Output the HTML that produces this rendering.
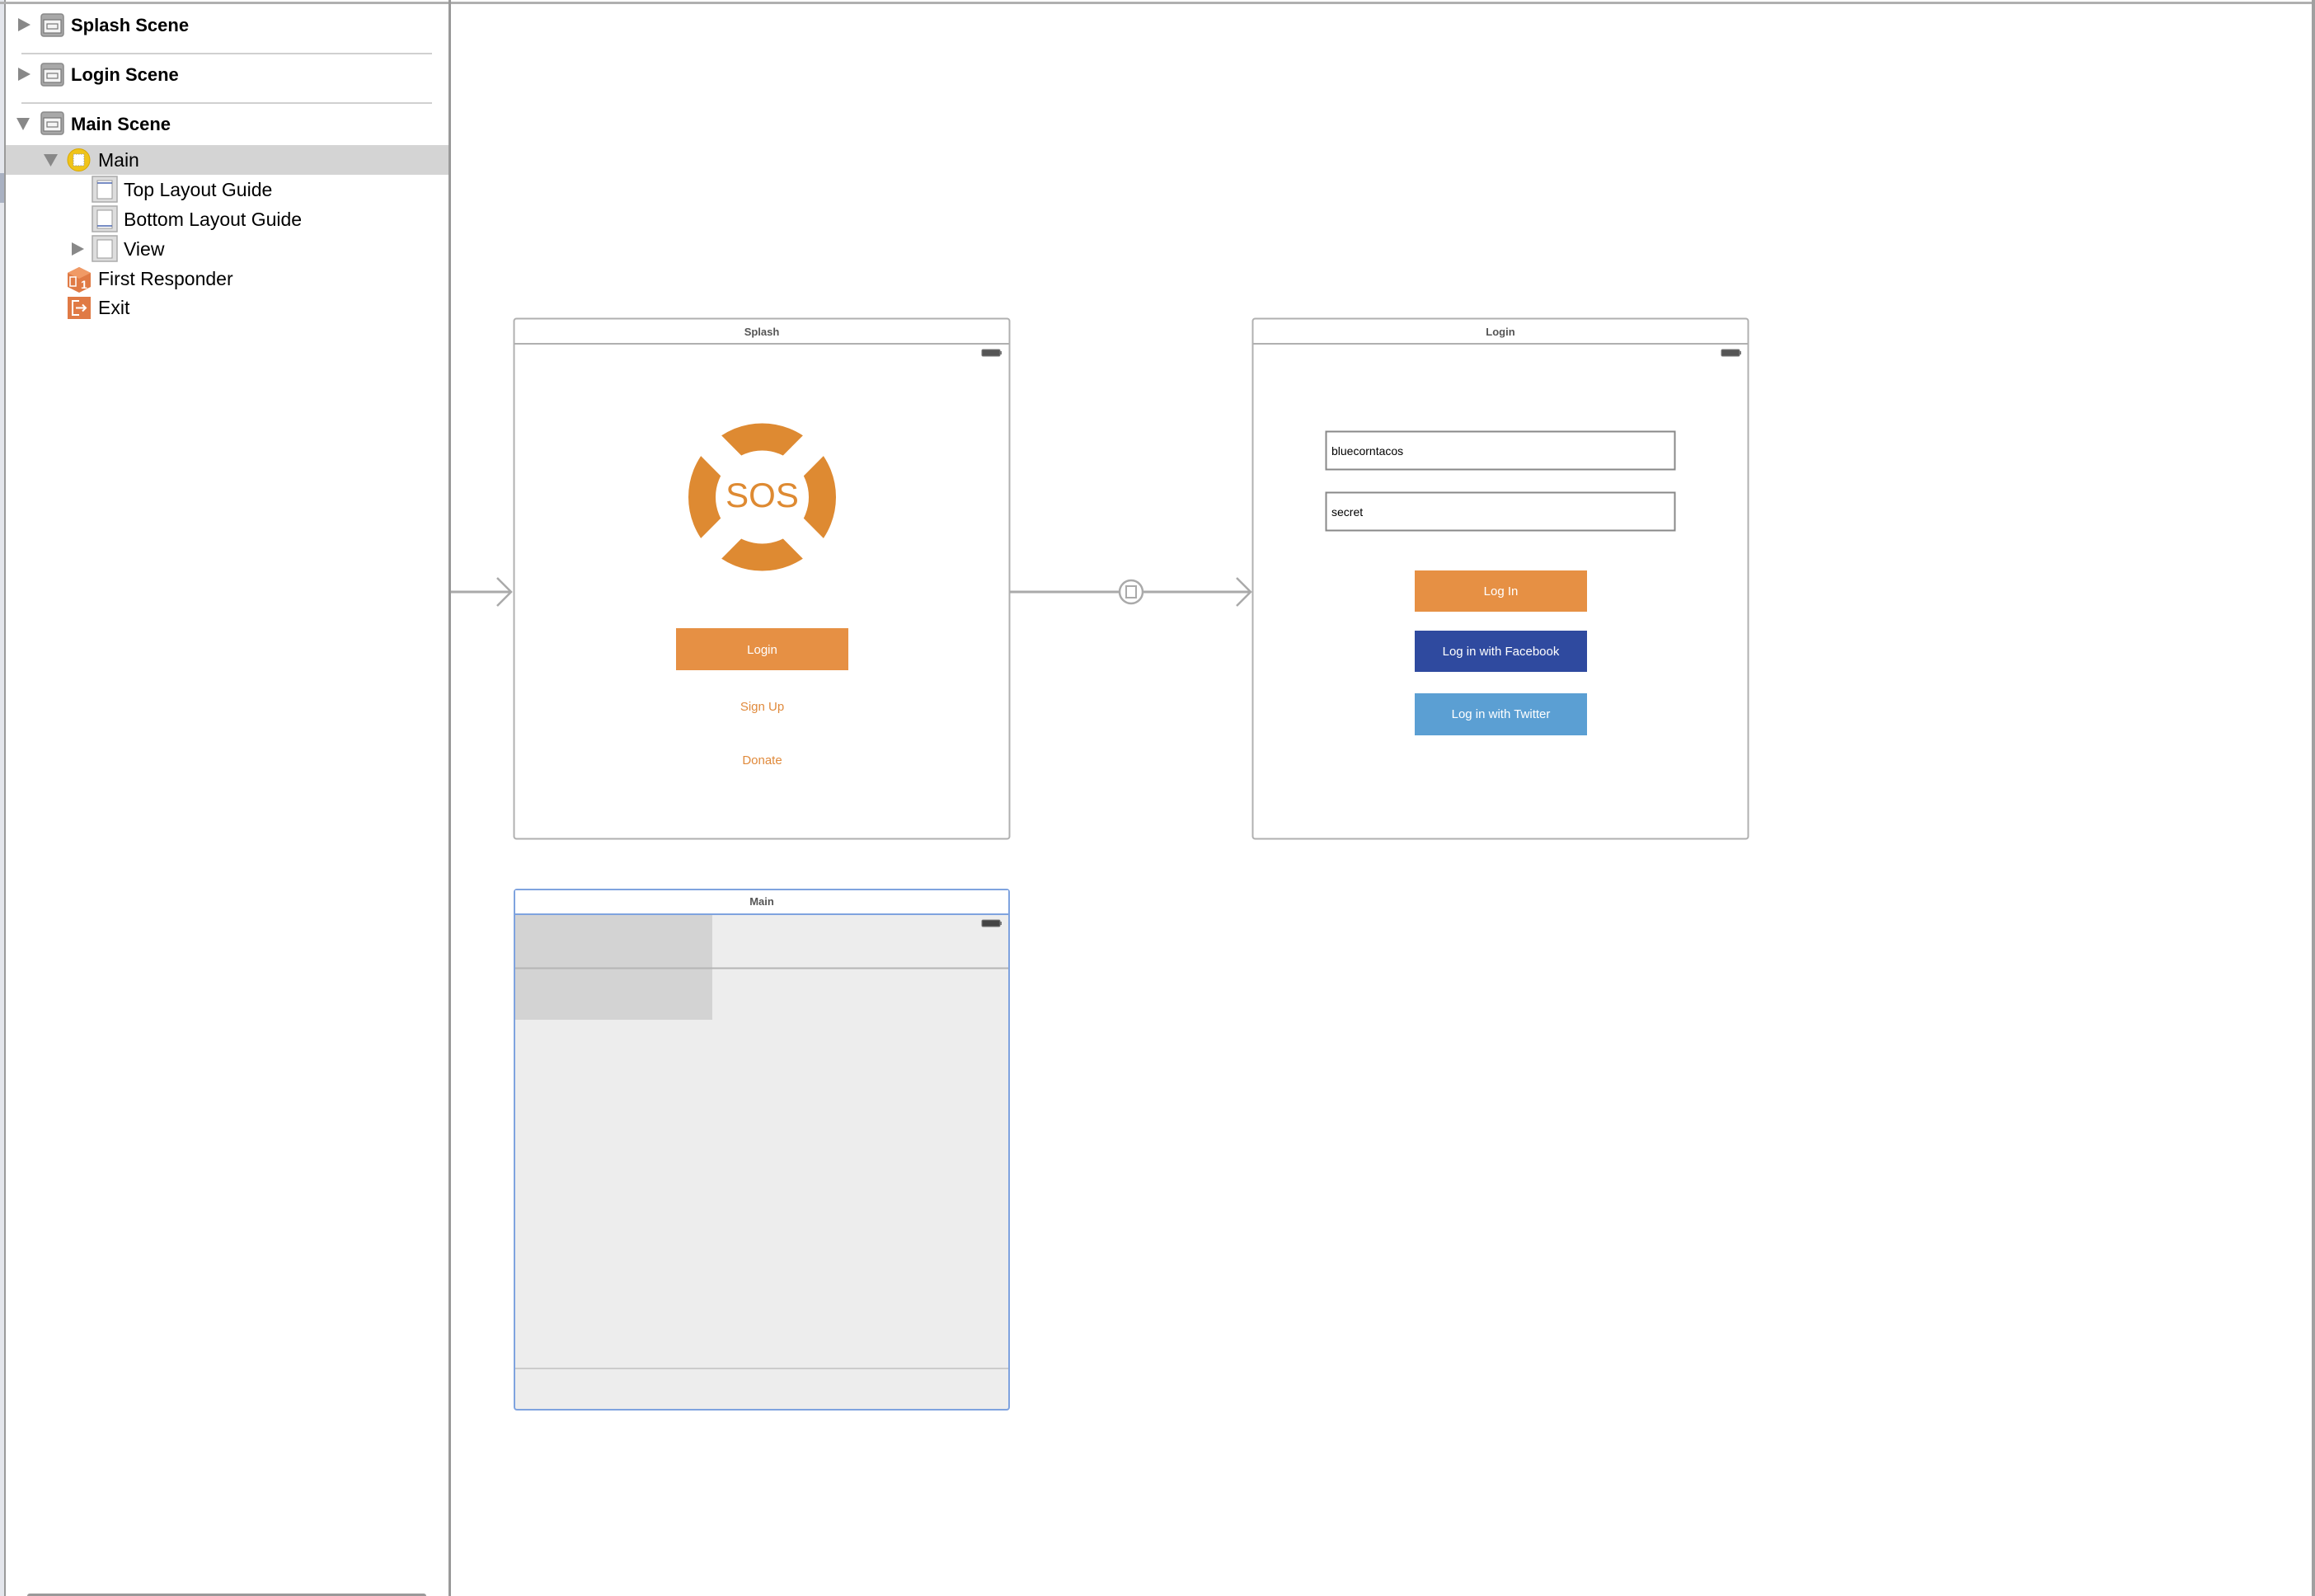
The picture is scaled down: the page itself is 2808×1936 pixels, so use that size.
<!DOCTYPE html>
<html><head><meta charset="utf-8"><style>
html,body{margin:0;padding:0;background:#fff}
svg{display:block}
text{font-family:"Liberation Sans",Arial,sans-serif}
</style></head><body>
<svg width="2808" height="1936" viewBox="0 0 2808 1936" xmlns="http://www.w3.org/2000/svg">
<rect width="2808" height="1936" fill="#fff"/>
<!-- left strip -->
<rect x="0" y="0" width="5" height="1936" fill="#e4e6ec"/>
<rect x="0" y="210" width="5" height="36" fill="#a9b1c2"/>
<rect x="5" y="0" width="2" height="1936" fill="#9a9a9a"/>
<!-- top border -->
<rect x="0" y="2" width="2808" height="3" fill="#b0b0b0"/>
<!-- panel divider -->
<rect x="544" y="0" width="3" height="1936" fill="#999"/>
<!-- right edge -->
<rect x="2804" y="0" width="4" height="1936" fill="#a0a0a0"/>
<!-- scrollbar -->
<rect x="33" y="1933" width="484" height="6" rx="3" fill="#999"/>

<!-- outline rows -->
<rect x="7" y="176" width="537" height="36" fill="#d4d4d4"/>
<line x1="26" y1="65" x2="524" y2="65" stroke="#d0d0d0" stroke-width="2"/>
<line x1="26" y1="125" x2="524" y2="125" stroke="#d0d0d0" stroke-width="2"/>

<g id="sceneicon">
</g>
<!-- triangles -->
<polygon points="22,22 37,30 22,38" fill="#888"/>
<polygon points="22,82 37,90 22,98" fill="#888"/>
<polygon points="20,143 36,143 28,158" fill="#888"/>
<polygon points="53,187 70,187 61.5,202" fill="#888"/>
<polygon points="87,294 102,302 87,310" fill="#888"/>
<!-- scene icons -->
<g fill="#a8a8a8" stroke="#888" stroke-width="1.5">
<rect x="50" y="17" width="27" height="27" rx="3"/>
<rect x="50" y="77" width="27" height="27" rx="3"/>
<rect x="50" y="136" width="27" height="27" rx="3"/>
</g>
<g fill="#f4f4f4" stroke="#777" stroke-width="1.2">
<rect x="53" y="24" width="21" height="16"/><rect x="57" y="29" width="13" height="6"/>
<rect x="53" y="84" width="21" height="16"/><rect x="57" y="89" width="13" height="6"/>
<rect x="53" y="143" width="21" height="16"/><rect x="57" y="148" width="13" height="6"/>
</g>
<text x="86" y="38" font-size="22" font-weight="bold" fill="#000">Splash Scene</text>
<text x="86" y="98" font-size="22" font-weight="bold" fill="#000">Login Scene</text>
<text x="86" y="158" font-size="22" font-weight="bold" fill="#000">Main Scene</text>
<!-- Main VC icon -->
<circle cx="95.5" cy="194" r="13.5" fill="#f0c419" stroke="#d9a800" stroke-width="1"/>
<rect x="89" y="187" width="13" height="14" fill="#fff" stroke="#999" stroke-dasharray="1.5,1.5"/>
<text x="119" y="202" font-size="23" fill="#000">Main</text>
<!-- guide icons -->
<g fill="#ddd" stroke="#aaa" stroke-width="1.5">
<rect x="112" y="214" width="30" height="31"/>
<rect x="112" y="250" width="30" height="31"/>
<rect x="112" y="286" width="30" height="31"/>
</g>
<g fill="#fff" stroke="#999" stroke-width="1">
<rect x="118" y="219" width="18" height="22"/>
<rect x="118" y="255" width="18" height="22"/>
<rect x="118" y="291" width="18" height="22"/>
</g>
<line x1="118" y1="222" x2="136" y2="222" stroke="#4a66b0" stroke-width="1.5"/>
<line x1="118" y1="274" x2="136" y2="274" stroke="#4a66b0" stroke-width="1.5"/>
<text x="150" y="238" font-size="23" fill="#000">Top Layout Guide</text>
<text x="150" y="274" font-size="23" fill="#000">Bottom Layout Guide</text>
<text x="150" y="310" font-size="23" fill="#000">View</text>
<!-- first responder cube -->
<polygon points="82,331 96,324 110,331 110,348 96,355 82,348" fill="#e07a45"/>
<polygon points="82,331 96,324 110,331 96,338" fill="#f09a66"/>
<text x="98" y="350" font-size="14" font-weight="bold" fill="#fff">1</text>
<rect x="85" y="336" width="7" height="11" fill="none" stroke="#fff" stroke-width="1.5"/>
<text x="119" y="346" font-size="23" fill="#000">First Responder</text>
<!-- exit -->
<rect x="82" y="360" width="28" height="27" fill="#e07a45"/>
<path d="M96 365 H88 V382 H96" fill="none" stroke="#fff" stroke-width="2"/>
<path d="M92 373.5 H104 M100 369.5 L104 373.5 L100 377.5" fill="none" stroke="#fff" stroke-width="2"/>
<text x="119" y="381" font-size="23" fill="#000">Exit</text>

<!-- Splash scene -->
<rect x="623.5" y="386.5" width="601" height="631" rx="3" fill="#fff" stroke="#b0b0b0" stroke-width="2"/>
<line x1="623" y1="417" x2="1225" y2="417" stroke="#b0b0b0" stroke-width="2"/>
<text x="924" y="407" font-size="13" font-weight="bold" fill="#555" text-anchor="middle">Splash</text>
<rect x="1191" y="424" width="22" height="8" rx="1.5" fill="#555" stroke="#777" stroke-width="1"/>
<rect x="1213.5" y="426" width="1.5" height="4" fill="#777"/>
<!-- SOS logo -->
<circle cx="924.5" cy="603" r="73" fill="none" stroke="#de8a32" stroke-width="33"/>
<line x1="860" y1="538" x2="989" y2="668" stroke="#fff" stroke-width="35"/>
<line x1="989" y1="538" x2="860" y2="668" stroke="#fff" stroke-width="35"/>
<line x1="850" y1="528" x2="999" y2="678" stroke="#fff" stroke-width="35"/>
<line x1="999" y1="528" x2="850" y2="678" stroke="#fff" stroke-width="35"/>
<circle cx="924.5" cy="603" r="56" fill="#fff"/>
<text x="924.5" y="615" font-size="42" fill="#de8a32" text-anchor="middle">SOS</text>
<rect x="820" y="762" width="209" height="51" fill="#e69044"/>
<text x="924.5" y="793" font-size="15" fill="#fff" text-anchor="middle">Login</text>
<text x="924.5" y="862" font-size="15" fill="#e08a3c" text-anchor="middle">Sign Up</text>
<text x="924.5" y="927" font-size="15" fill="#e08a3c" text-anchor="middle">Donate</text>
<!-- initial arrow -->
<line x1="547" y1="718" x2="620" y2="718" stroke="#aaa" stroke-width="3"/>
<path d="M603 701 L620 718 L603 735" fill="none" stroke="#aaa" stroke-width="2.5"/>

<!-- segue -->
<line x1="1225" y1="718" x2="1517" y2="718" stroke="#aaa" stroke-width="3"/>
<circle cx="1372" cy="718" r="14" fill="#fff" stroke="#aaa" stroke-width="2.5"/>
<rect x="1366" y="711" width="12" height="14" fill="none" stroke="#aaa" stroke-width="2"/>
<path d="M1500 701 L1517 718 L1500 735" fill="none" stroke="#aaa" stroke-width="2.5"/>

<!-- Login scene -->
<rect x="1519.5" y="386.5" width="601" height="631" rx="3" fill="#fff" stroke="#b0b0b0" stroke-width="2"/>
<line x1="1519" y1="417" x2="2121" y2="417" stroke="#b0b0b0" stroke-width="2"/>
<text x="1820" y="407" font-size="13" font-weight="bold" fill="#555" text-anchor="middle">Login</text>
<rect x="2088" y="424" width="22" height="8" rx="1.5" fill="#555" stroke="#777" stroke-width="1"/>
<rect x="2110.5" y="426" width="1.5" height="4" fill="#777"/>
<rect x="1608.5" y="523.5" width="423" height="46" fill="#fff" stroke="#888" stroke-width="2"/>
<text x="1615" y="552" font-size="14" fill="#000">bluecorntacos</text>
<rect x="1608.5" y="597.5" width="423" height="46" fill="#fff" stroke="#888" stroke-width="2"/>
<text x="1615" y="626" font-size="14" fill="#000">secret</text>
<rect x="1716" y="692" width="209" height="50" fill="#e69044"/>
<text x="1820.5" y="722" font-size="15" fill="#fff" text-anchor="middle">Log In</text>
<rect x="1716" y="765" width="209" height="50" fill="#2f4a9f"/>
<text x="1820.5" y="795" font-size="15" fill="#fff" text-anchor="middle">Log in with Facebook</text>
<rect x="1716" y="841" width="209" height="51" fill="#5b9fd3"/>
<text x="1820.5" y="871" font-size="15" fill="#fff" text-anchor="middle">Log in with Twitter</text>

<!-- Main scene -->
<rect x="624" y="1079" width="600" height="631" rx="3" fill="#ededed" stroke="#7fa3df" stroke-width="2"/>
<rect x="625" y="1080" width="598" height="29" fill="#fff"/>
<line x1="624" y1="1109" x2="1224" y2="1109" stroke="#7fa3df" stroke-width="2"/>
<text x="924" y="1098" font-size="13" font-weight="bold" fill="#555" text-anchor="middle">Main</text>
<rect x="625" y="1110" width="239" height="127" fill="#d3d3d3"/>
<line x1="625" y1="1174.5" x2="1223" y2="1174.5" stroke="#b5b5b5" stroke-width="2"/>
<line x1="625" y1="1660" x2="1223" y2="1660" stroke="#ccc" stroke-width="2"/>
<rect x="1191" y="1116" width="22" height="8" rx="1.5" fill="#444" stroke="#777" stroke-width="1"/>
<rect x="1213.5" y="1118" width="1.5" height="4" fill="#777"/>
</svg>
</body></html>
